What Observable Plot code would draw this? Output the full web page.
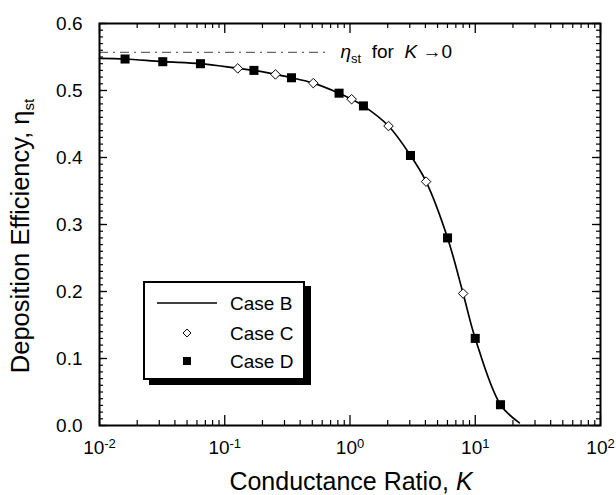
<!DOCTYPE html>
<html><head><meta charset="utf-8">
<script src="https://cdn.jsdelivr.net/npm/d3@7"></script>
<script src="https://cdn.jsdelivr.net/npm/@observablehq/plot@0.6"></script>
<style>
body{margin:0;background:#fff;}
#wrap{position:relative;width:616px;height:495px;font-family:"Liberation Sans",Arial,sans-serif;}
#legend{position:absolute;left:143px;top:281px;width:158px;height:95px;border:2px solid #000;box-shadow:6px 5px 0 #000;background:#fff;}
#legend svg{position:absolute;left:0;top:0;}
</style></head><body><div id="wrap"></div>
<script>
// Case B curve (solid line)
const curveK   = [0.01, 0.016, 0.032, 0.064, 0.127, 0.171, 0.254, 0.341, 0.509, 0.818, 1.03, 1.28, 2.03, 3.04, 4.05, 6.01, 8.0, 10.0, 15.9, 22.5];
const curveEta = [0.548, 0.547, 0.543, 0.540, 0.533, 0.530, 0.524, 0.519, 0.511, 0.496, 0.487, 0.477, 0.447, 0.403, 0.364, 0.280, 0.197, 0.130, 0.031, 0.004];
// Case C (open diamonds)
const caseCK   = [0.127, 0.254, 0.509, 1.03, 2.03, 4.05, 8.0];
const caseCEta = [0.533, 0.524, 0.511, 0.487, 0.447, 0.364, 0.197];
// Case D (filled squares)
const caseDK   = [0.016, 0.032, 0.064, 0.171, 0.341, 0.818, 1.28, 3.04, 6.01, 10.0, 15.9];
const caseDEta = [0.547, 0.543, 0.540, 0.530, 0.519, 0.496, 0.477, 0.403, 0.280, 0.130, 0.031];
// eta_st for K -> 0 reference line
const refEta = 0.557;
const refKStart = 0.01, refKEnd = 0.70;
const annotK = 0.84;
// ticks
const xMajor = [0.01, 0.1, 1, 10, 100];
const xMinor = [];
for (const dec of [0.01, 0.1, 1, 10]) for (const m of [2,3,4,5,6,7,8,9]) xMinor.push(+(m*dec).toPrecision(3));
const yMajor = [0, 0.1, 0.2, 0.3, 0.4, 0.5, 0.6];
const yMinor = d3.range(0, 61).map(i => i/100);
const legendLabels = ["Case B", "Case C", "Case D"];

const W = 616, H = 495, mL = 99, mR = 16, mT = 23, mB = 70;
const fw = W - mL - mR, fh = H - mT - mB;

const curve = curveK.map((k, i) => ({k, eta: curveEta[i]}));
const caseC = caseCK.map((k, i) => ({k, eta: caseCEta[i]}));
const caseD = caseDK.map((k, i) => ({k, eta: caseDEta[i]}));
const ref = [{y: refEta, x1: refKStart, x2: refKEnd}];
const annot = [{k: annotK, eta: refEta, label: "ANNOT"}];

const font = '"Liberation Sans", Arial, sans-serif';
const chart = Plot.plot({
  width: W, height: H, marginLeft: mL, marginRight: mR, marginTop: mT, marginBottom: mB,
  style: {fontFamily: font, fontSize: "19px", color: "#000", background: "#fff", overflow: "visible"},
  x: {type: "log", domain: [0.01, 100], label: null},
  y: {domain: [0, 0.6], label: null},
  marks: [
    Plot.ruleY(ref, {y: "y", x1: "x1", x2: "x2", stroke: "#444", strokeWidth: 1, strokeDasharray: "9,5,2,5"}),
    Plot.line(curve, {x: "k", y: "eta", curve: "catmull-rom", stroke: "#000", strokeWidth: 1.7}),
    Plot.dot(caseC, {x: "k", y: "eta", symbol: "diamond2", r: 4.3, fill: "#fff", stroke: "#000", strokeWidth: 1}),
    Plot.dot(caseD, {x: "k", y: "eta", symbol: "square", r: 5.1, fill: "#000", stroke: "none"}),
    Plot.text(annot, {x: "k", y: "eta", text: "label", textAnchor: "start", fontSize: 19}),
    // inward ticks
    Plot.tickX(xMajor, {x: d => d, insetTop: fh - 10, strokeWidth: 1.3}),
    Plot.tickX(xMajor, {x: d => d, insetBottom: fh - 10, strokeWidth: 1.3}),
    Plot.tickX(xMinor, {x: d => d, insetTop: fh - 5, strokeWidth: 1.2}),
    Plot.tickX(xMinor, {x: d => d, insetBottom: fh - 5, strokeWidth: 1.2}),
    Plot.tickY(yMajor, {y: d => d, insetRight: fw - 8, strokeWidth: 1.3}),
    Plot.tickY(yMajor, {y: d => d, insetLeft: fw - 8, strokeWidth: 1.3}),
    Plot.tickY(yMinor, {y: d => d, insetRight: fw - 4, strokeWidth: 1.2}),
    Plot.tickY(yMinor, {y: d => d, insetLeft: fw - 4, strokeWidth: 1.2}),
    Plot.axisX(xMajor, {anchor: "bottom", tickSize: 0, tickPadding: 15, label: null, fontSize: 19,
      tickFormat: d => "10^" + Math.round(Math.log10(d))}),
    Plot.axisY(yMajor, {anchor: "left", tickSize: 0, tickPadding: 17, label: null, fontSize: 19,
      tickFormat: d3.format(".1f")}),
    Plot.frame({stroke: "#000", strokeWidth: 2})
  ]
});

const wrap = document.getElementById("wrap");
wrap.appendChild(chart);
const svg = d3.select(chart);

// superscripts on x tick labels, styled annotation
svg.selectAll("text").each(function() {
  const t = this.textContent;
  if (/^10\^/.test(t)) {
    const e = t.slice(3);
    d3.select(this).html(`10<tspan dy="-0.5em" font-size="13">${e}</tspan>`);
  } else if (t === "ANNOT") {
    d3.select(this).attr("xml:space", "preserve").style("white-space", "pre")
      .html(`<tspan font-style="italic">η</tspan><tspan font-size="13" dy="5">st</tspan><tspan dy="-5">  for  </tspan><tspan font-style="italic">K</tspan><tspan> →0</tspan>`);
  }
});

// axis titles
svg.append("text")
  .attr("x", 351).attr("y", 490)
  .attr("text-anchor", "middle").attr("font-size", 25).attr("font-family", font)
  .html(`Conductance Ratio, <tspan font-style="italic">K</tspan>`);
svg.append("text")
  .attr("transform", `translate(29, 236) rotate(-90)`)
  .attr("text-anchor", "middle").attr("font-size", 25.5).attr("font-family", font)
  .html(`Deposition Efficiency, η<tspan font-size="15" dy="5">st</tspan>`);

// legend box
const leg = document.createElement("div");
leg.id = "legend";
wrap.appendChild(leg);
const ls = d3.select(leg).append("svg").attr("width", 158).attr("height", 95);
const rows = [20, 50, 78];
ls.append("line").attr("x1", 12).attr("x2", 72).attr("y1", rows[0]).attr("y2", rows[0]).attr("stroke", "#000").attr("stroke-width", 1.7);
ls.append("path").attr("d", d3.symbol(d3.symbolDiamond2, 40)()).attr("transform", `translate(42,${rows[1]})`).attr("fill", "#fff").attr("stroke", "#000");
ls.append("path").attr("d", d3.symbol(d3.symbolSquare, 64)()).attr("transform", `translate(42,${rows[2]})`).attr("fill", "#000");
legendLabels.forEach((lab, i) => {
  ls.append("text").attr("x", 85).attr("y", rows[i]).attr("dy", "0.35em")
    .attr("font-size", 19).attr("font-family", font).text(lab);
});
</script></body></html>
